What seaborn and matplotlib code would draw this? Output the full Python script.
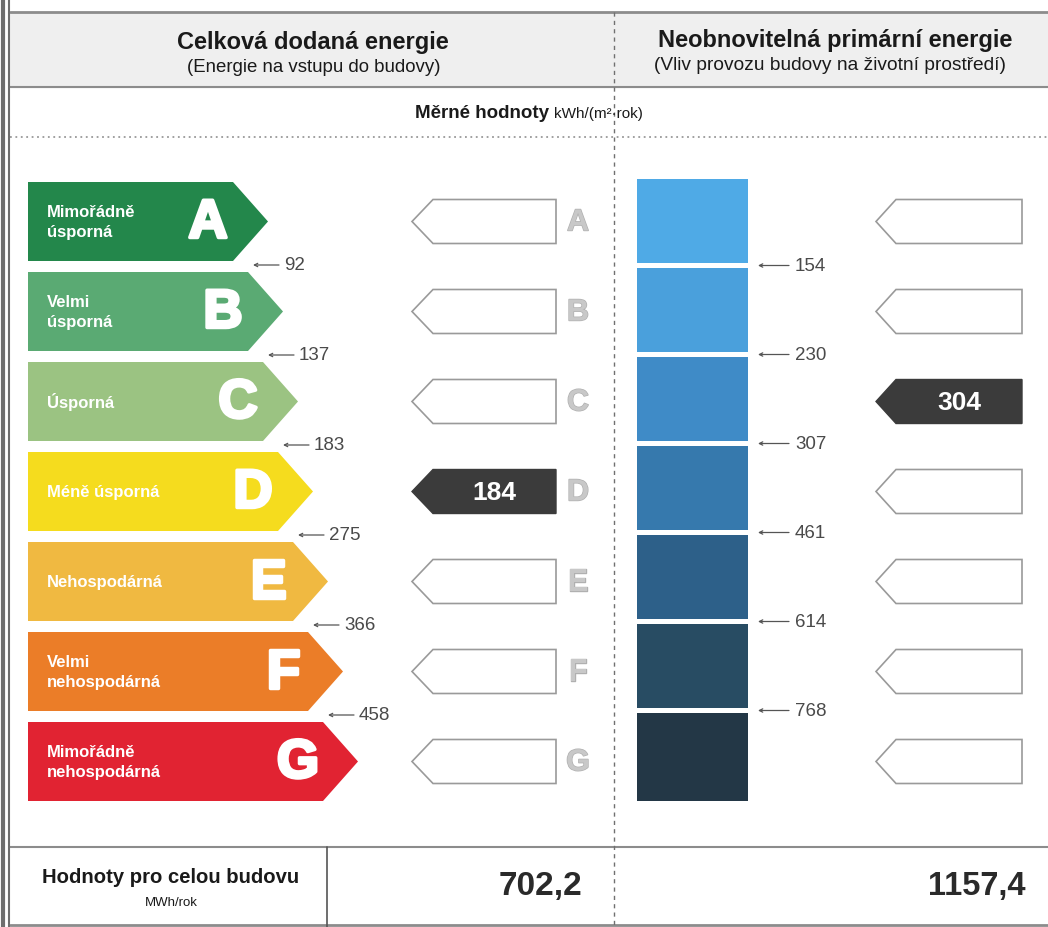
import numpy as np
import seaborn as sns
import matplotlib.pyplot as plt
import matplotlib.patheffects as pe
from matplotlib.patches import Polygon, Rectangle

sns.set_theme(style="white")
plt.rcParams["font.family"] = ["Liberation Sans", "DejaVu Sans"]

# data
classes = ["A", "B", "C", "D", "E", "F", "G"]
class_names = ["Mimořádně\núsporná", "Velmi\núsporná", "Úsporná", "Méně úsporná",
               "Nehospodárná", "Velmi\nnehospodárná", "Mimořádně\nnehospodárná"]
class_colors = ["#23874b", "#5aaa73", "#9bc382", "#f5dc1e", "#f0b941", "#eb7d28", "#e12332"]
blue_colors = ["#4faae6", "#4aa0dc", "#3f8bc7", "#3679ad", "#2d6089", "#284c63", "#233746"]
delivered_limits = [92, 137, 183, 275, 366, 458]
primary_limits = [154, 230, 307, 461, 614, 768]
delivered_value = 184
primary_value = 304
delivered_total = 702.2
primary_total = 1157.4

fig = plt.figure(figsize=(10.48, 9.28), dpi=100)
ax = fig.add_axes([0, 0, 1, 1])
ax.set_xlim(0, 1048)
ax.set_ylim(928, 0)
ax.axis("off")

gray_line = "#8c8c8c"

# frame and header
ax.add_patch(Rectangle((10, 13), 1040, 75, color="#efefef", zorder=0))
ax.plot([10, 1048], [13, 13], color=gray_line, lw=2)
ax.plot([10, 1048], [88, 88], color=gray_line, lw=1.5)
ax.plot([10, 1048], [138, 138], color="#999999", lw=1.3, ls=(0, (1, 2)))
ax.plot([10, 1048], [848, 848], color=gray_line, lw=1.5)
ax.plot([10, 1048], [926, 926], color=gray_line, lw=2)
ax.plot([614, 614], [13, 928], color="#707070", lw=1, ls=(0, (3, 3)))
ax.plot([327, 327], [848, 928], color="#555555", lw=1.2)
ax.plot([3, 3], [0, 928], color="#6e6e6e", lw=3)
ax.plot([9, 9], [0, 928], color="#6e6e6e", lw=1.5)

ax.text(313, 43, "Celková dodaná energie", ha="center", va="center",
        fontsize=17, fontweight="bold", color="#1a1a1a")
ax.text(314, 68, "(Energie na vstupu do budovy)", ha="center", va="center",
        fontsize=13.4, color="#1a1a1a")
ax.text(835, 41, "Neobnovitelná primární energie", ha="center", va="center",
        fontsize=17, fontweight="bold", color="#1a1a1a")
ax.text(830, 66, "(Vliv provozu budovy na životní prostředí)", ha="center", va="center",
        fontsize=13.8, color="#1a1a1a")
ax.text(549, 113, "Měrné hodnoty", ha="right", va="center",
        fontsize=13.5, fontweight="bold", color="#1a1a1a")
ax.text(554, 114, "kWh/(m²·rok)", ha="left", va="center", fontsize=11, color="#1a1a1a")

# left scale (delivered energy)
row_h = 79
heavy = [pe.withStroke(linewidth=2.5, foreground="white")]
for i, (cls, name, col) in enumerate(zip(classes, class_names, class_colors)):
    top = 183 + 90 * i
    mid = top + row_h / 2
    tip = 268 + 15 * i
    ax.add_patch(Polygon([(28, top), (tip - 35, top), (tip, mid),
                          (tip - 35, top + row_h), (28, top + row_h)],
                         closed=True, facecolor=col, edgecolor="none"))
    ax.text(tip - 60, mid + 2, cls, ha="center", va="center", fontsize=39,
            fontweight="bold", color="white", path_effects=heavy)
    ax.text(47, mid, name, ha="left", va="center", fontsize=12,
            fontweight="bold", color="white", linespacing=1.4)

for i, lim in enumerate(delivered_limits):
    y = 183 + 90 * i + row_h + 4
    ax.annotate("", xy=(253 + 15 * i, y), xytext=(279 + 15 * i, y),
                arrowprops=dict(arrowstyle="->", color="#555555", lw=0.9,
                                shrinkA=0, shrinkB=0, mutation_scale=6))
    ax.text(284 + 15 * i, y, str(lim), ha="left", va="center",
            fontsize=13.5, color="#4a4a4a")

d_idx = int(np.searchsorted(delivered_limits, delivered_value))
p_idx = int(np.searchsorted(primary_limits, primary_value))


def pointer(x_tip, x_body, x_right, mid, filled, label=None):
    h = 22
    pts = [(x_tip, mid), (x_body, mid - h), (x_right, mid - h),
           (x_right, mid + h), (x_body, mid + h)]
    if filled:
        ax.add_patch(Polygon(pts, closed=True, facecolor="#3b3b3b",
                             edgecolor="#3b3b3b", lw=1))
        ax.text((x_body + x_right) / 2, mid + 1, label, ha="center", va="center",
                fontsize=19, fontweight="bold", color="white")
    else:
        ax.add_patch(Polygon(pts, closed=True, facecolor="white",
                             edgecolor="#9a9a9a", lw=1.2))


outline = [pe.withStroke(linewidth=1, foreground="#b0b0b0")]
for i, cls in enumerate(classes):
    mid = 183 + 90 * i + row_h / 2
    pointer(412, 433, 556, mid, i == d_idx, str(delivered_value))
    ax.text(578, mid + 1, cls, ha="center", va="center", fontsize=22,
            fontweight="bold", color="#c8c8c8", path_effects=outline)

# right scale (primary energy)
for i, col in enumerate(blue_colors):
    top = 180 + 89 * i
    h = 84 if i < 6 else 88
    ax.add_patch(Rectangle((637, top), 111, h, facecolor=col, edgecolor="none"))

for i, lim in enumerate(primary_limits):
    y = 180 + 89 * i + 84 + 2.5
    ax.annotate("", xy=(758, y), xytext=(789, y),
                arrowprops=dict(arrowstyle="->", color="#555555", lw=0.9,
                                shrinkA=0, shrinkB=0, mutation_scale=6))
    ax.text(795, y, str(lim), ha="left", va="center", fontsize=13.5, color="#4a4a4a")

for i in range(len(classes)):
    mid = 183 + 90 * i + row_h / 2
    pointer(876, 896, 1022, mid, i == p_idx, str(primary_value))

# totals row
ax.text(171, 878, "Hodnoty pro celou budovu", ha="center", va="center",
        fontsize=14.6, fontweight="bold", color="#1a1a1a")
ax.text(171, 903, "MWh/rok", ha="center", va="center", fontsize=9.5, color="#1a1a1a")
ax.text(582, 887, f"{delivered_total:.1f}".replace(".", ","), ha="right", va="center",
        fontsize=24, fontweight="bold", color="#2a2a2a")
ax.text(1025, 887, f"{primary_total:.1f}".replace(".", ","), ha="right", va="center",
        fontsize=23.5, fontweight="bold", color="#2a2a2a")

fig.savefig("out.png", dpi=100, facecolor="white")
